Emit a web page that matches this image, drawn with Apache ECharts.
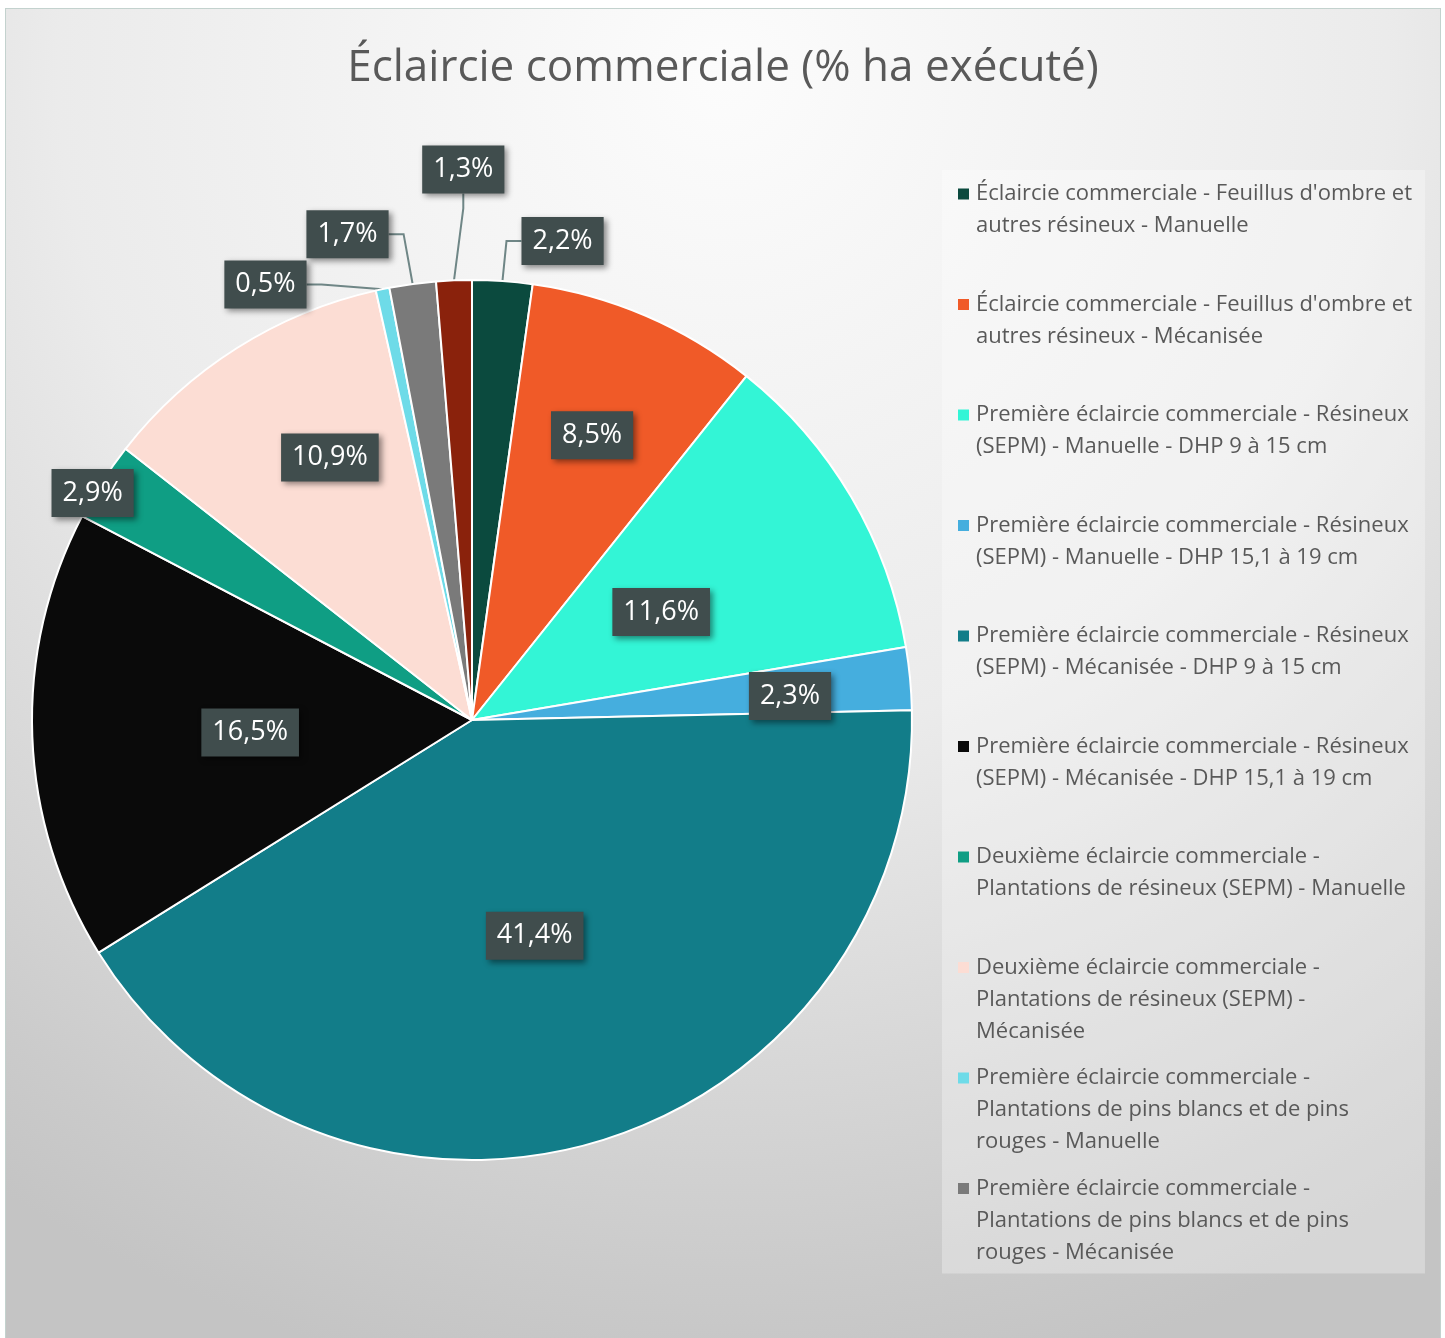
<!DOCTYPE html>
<html>
<head>
<meta charset="utf-8">
<script src="https://cdn.jsdelivr.net/npm/echarts@6/dist/echarts.min.js"></script>
<style>
  html, body { margin: 0; background: #fff; }
  #main { position: absolute; left: 5px; top: 8px; width: 1436px; height: 1330px;
          border: 1px solid #c3d2ce; border-bottom: none; box-sizing: border-box; }
</style>
</head>
<body>
<div id="main"></div>
<script>
// slices, clockwise from 12 o'clock
var categories = [
  "Éclaircie commerciale - Feuillus d'ombre et autres résineux - Manuelle",
  "Éclaircie commerciale - Feuillus d'ombre et autres résineux - Mécanisée",
  "Première éclaircie commerciale - Résineux (SEPM) - Manuelle - DHP 9 à 15 cm",
  "Première éclaircie commerciale - Résineux (SEPM) - Manuelle - DHP 15,1 à 19 cm",
  "Première éclaircie commerciale - Résineux (SEPM) - Mécanisée - DHP 9 à 15 cm",
  "Première éclaircie commerciale - Résineux (SEPM) - Mécanisée - DHP 15,1 à 19 cm",
  "Deuxième éclaircie commerciale - Plantations de résineux (SEPM) - Manuelle",
  "Deuxième éclaircie commerciale - Plantations de résineux (SEPM) - Mécanisée",
  "Première éclaircie commerciale - Plantations de pins blancs et de pins rouges - Manuelle",
  "Première éclaircie commerciale - Plantations de pins blancs et de pins rouges - Mécanisée",
  "Deuxième éclaircie commerciale - Plantations de pins blancs et de pins rouges"
];
var values = [2.2, 8.5, 11.6, 2.3, 41.4, 16.5, 2.9, 10.9, 0.5, 1.7, 1.3];

var colors = ['#0b4a3e', '#f05a28', '#33f5d6', '#45aede', '#127d89', '#0a0a0a',
              '#0f9e84', '#fcddd4', '#6edbe8', '#7a7a7a', '#8a220c'];
var legendCount = 10;            // the legend box only shows the first ten
var withLeader = [0, 8, 9, 10];  // small slices labelled outside with a line
// label nudges from the default spot, px
var labelNudge = [[-2, -25], [32, -80], [-3, 5], [96, -3], [-1, 2], [1, 4],
                  [-192, -106], [-23, -74], [-53, 10], [-2, -35], [71, -96]];

var FONT = '"Open Sans", "Noto Sans", sans-serif';
var LEGEND_SIZE = 22;

// wrap legend names on measured width
var ctx = document.createElement('canvas').getContext('2d');
ctx.font = LEGEND_SIZE + 'px "Open Sans"';
function wrap(text, maxW) {
  var words = text.split(' ');
  var lines = [];
  var cur = '';
  words.forEach(function (w) {
    var t = cur ? cur + ' ' + w : w;
    if (cur && ctx.measureText(t).width > maxW) {
      lines.push(cur);
      cur = w;
    } else {
      cur = t;
    }
  });
  if (cur) lines.push(cur);
  return lines;
}

var rich = {
  t: { fontSize: LEGEND_SIZE, lineHeight: 32, color: '#595959', fontFamily: FONT },
  g: { width: 7, height: 11, lineHeight: 32 },
  p: { width: 18, height: 11, lineHeight: 32 }
};
colors.forEach(function (c, i) {
  rich['m' + i] = { width: 11, height: 11, lineHeight: 32, backgroundColor: c };
});

var pieData = values.map(function (v, i) {
  var item = { value: v, name: categories[i], itemStyle: { color: colors[i] } };
  if (withLeader.indexOf(i) >= 0) {
    item.label = { position: 'outside' };
    item.labelLine = { show: true };
  }
  return item;
});

var chart = echarts.init(document.getElementById('main'));
var option = {
  backgroundColor: {
    type: 'radial', x: 0.5, y: 0.05, r: 1,
    colorStops: [
      { offset: 0, color: '#fcfcfc' },
      { offset: 0.5, color: '#ebebeb' },
      { offset: 0.9, color: '#cbcbcb' },
      { offset: 1, color: '#c4c4c4' }
    ]
  },
  title: {
    text: 'Éclaircie commerciale (% ha exécuté)',
    left: 'center',
    top: 32,
    textStyle: { fontFamily: FONT, fontSize: 44, fontWeight: 'normal', color: '#595959' }
  },
  legend: {
    orient: 'vertical',
    left: 936,
    top: 161,
    data: categories.slice(0, legendCount),
    itemWidth: 0,
    itemHeight: 0,
    itemGap: 24.5,
    padding: [13, 13, 10, 10],
    backgroundColor: 'rgba(255,255,255,0.3)',
    selectedMode: false,
    textStyle: { rich: rich },
    formatter: function (name) {
      var i = categories.indexOf(name);
      var lines = wrap(name, 440);
      while (lines.length < 3) lines.push('\u00a0');
      return lines.map(function (l, k) {
        return (k === 0 ? '{m' + i + '|}{g|}' : '{p|}') + '{t|' + l + '}';
      }).join('\n');
    }
  },
  series: [{
    type: 'pie',
    center: [466, 711],
    radius: 440,
    startAngle: 90,
    clockwise: true,
    avoidLabelOverlap: false,
    data: pieData,
    itemStyle: { borderColor: '#ffffff', borderWidth: 2 },
    label: {
      show: true,
      position: 'inside',
      formatter: function (p) { return p.value.toFixed(1).replace('.', ',') + '%'; },
      color: '#ffffff',
      fontFamily: FONT,
      fontSize: 27,
      backgroundColor: '#404d4d',
      padding: [12, 11, 9, 11],
      shadowColor: 'rgba(0,0,0,0.45)',
      shadowBlur: 6,
      shadowOffsetX: 3,
      shadowOffsetY: 3
    },
    labelLine: {
      show: false,
      length: 15,
      length2: 15,
      lineStyle: { color: '#6f8686', width: 2 }
    },
    labelLayout: function (params) {
      var n = labelNudge[params.dataIndex];
      var r = params.labelRect;
      return {
        x: r.x + r.width / 2 + n[0],
        y: r.y + r.height / 2 + n[1],
        align: 'center',
        verticalAlign: 'middle'
      };
    },
    emphasis: { scale: false }
  }]
};
chart.setOption(option);
</script>
</body>
</html>
